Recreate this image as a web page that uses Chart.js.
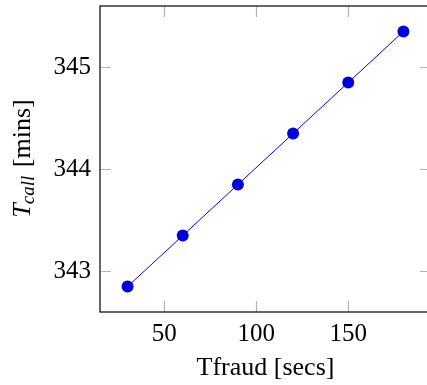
<!DOCTYPE html>
<html>
<head>
<meta charset="utf-8">
<script src="https://cdn.jsdelivr.net/npm/chart.js@4/dist/chart.umd.min.js"></script>
<style>
html,body{margin:0;padding:0;background:#fff;overflow:hidden;}
#wrap{width:432px;height:385px;position:relative;}
</style>
</head>
<body>
<div id="wrap"><canvas id="c" width="432" height="385"></canvas></div>
<script>
const tfraud = [30, 60, 90, 120, 150, 180];
const tcall = [342.85, 343.35, 343.85, 344.35, 344.85, 345.35];
const xTicks = [50, 100, 150];
const yTicks = [343, 344, 345];
const xTitle = 'Tfraud [secs]';
const yTitleMain = 'T';
const yTitleSub = 'call';
const yTitleRest = ' [mins]';

const FONT = '"Liberation Serif", "Times New Roman", serif';

const innerTicks = {
  id: 'innerTicks',
  afterDatasetsDraw(chart) {
    const {ctx, chartArea: a, scales} = chart;
    const L = 11;
    ctx.save();
    ctx.strokeStyle = '#b3b3b3';
    ctx.lineWidth = 1.2;
    ctx.beginPath();
    xTicks.forEach(v => {
      const px = Math.round(scales.x.getPixelForValue(v)) + 0.5;
      ctx.moveTo(px, a.bottom); ctx.lineTo(px, a.bottom - L);
      ctx.moveTo(px, a.top); ctx.lineTo(px, a.top + L);
    });
    yTicks.forEach(v => {
      const py = Math.round(scales.y.getPixelForValue(v)) + 0.5;
      ctx.moveTo(a.left, py); ctx.lineTo(a.left + L, py);
      ctx.moveTo(a.right, py); ctx.lineTo(a.right - L, py);
    });
    ctx.stroke();
    ctx.strokeStyle = '#000';
    ctx.lineWidth = 1.2;
    ctx.strokeRect(a.left, a.top, a.right - a.left, a.bottom - a.top);
    ctx.restore();
  }
};

const yTitlePlugin = {
  id: 'yTitlePlugin',
  afterDraw(chart) {
    const {ctx, chartArea: a} = chart;
    const cy = (a.top + a.bottom) / 2;
    const cx = 23;
    ctx.save();
    ctx.translate(cx, cy);
    ctx.rotate(-Math.PI / 2);
    ctx.fillStyle = '#000';
    ctx.textBaseline = 'middle';
    const fMain = 'italic 26px ' + FONT;
    const fSub = 'italic 19px ' + FONT;
    const fRest = '26px ' + FONT;
    ctx.font = fMain; const w1 = ctx.measureText(yTitleMain).width;
    ctx.font = fSub; const w2 = ctx.measureText(yTitleSub).width;
    ctx.font = fRest; const w3 = ctx.measureText(yTitleRest).width;
    let x = -(w1 + w2 + w3) / 2;
    ctx.textAlign = 'left';
    ctx.font = fMain; ctx.fillText(yTitleMain, x, 0); x += w1 - 1;
    ctx.font = fSub; ctx.fillText(yTitleSub, x, 6); x += w2 + 2;
    ctx.font = fRest; ctx.fillText(yTitleRest, x, 0);
    ctx.restore();
  }
};

function zeroPad(s) { s.paddingTop = 0; s.paddingBottom = 0; s.paddingLeft = 0; s.paddingRight = 0; }

new Chart(document.getElementById('c'), {
  type: 'line',
  data: {
    datasets: [{
      data: tfraud.map((x, i) => ({x: x, y: tcall[i]})),
      borderColor: '#0000ff',
      borderWidth: 1,
      backgroundColor: '#0000dd',
      pointBackgroundColor: '#0000dd',
      pointBorderColor: '#0000dd',
      pointBorderWidth: 0,
      pointRadius: 6,
      tension: 0,
      fill: false
    }]
  },
  options: {
    responsive: false,
    animation: false,
    events: [],
    layout: {autoPadding: false, padding: {top: 6, right: 1, left: 0, bottom: 0}},
    plugins: {legend: {display: false}, tooltip: {enabled: false}},
    scales: {
      x: {
        type: 'linear',
        min: 15, max: 195,
        afterBuildTicks: s => { s.ticks = xTicks.map(v => ({value: v})); },
        afterFit: s => { s.height = 73; zeroPad(s); },
        grid: {display: false, drawTicks: false},
        border: {display: false},
        ticks: {color: '#000', font: {family: FONT, size: 25}, padding: 7, maxRotation: 0},
        title: {display: true, text: xTitle, color: '#000', font: {family: FONT, size: 26}, padding: {top: 4, bottom: 1}}
      },
      y: {
        type: 'linear',
        min: 342.6, max: 345.6,
        afterBuildTicks: s => { s.ticks = yTicks.map(v => ({value: v})); },
        afterFit: s => { s.width = 100; zeroPad(s); },
        grid: {display: false, drawTicks: false},
        border: {display: false},
        ticks: {color: '#000', font: {family: FONT, size: 25}, padding: 9}
      }
    }
  },
  plugins: [innerTicks, yTitlePlugin]
});
</script>
</body>
</html>
